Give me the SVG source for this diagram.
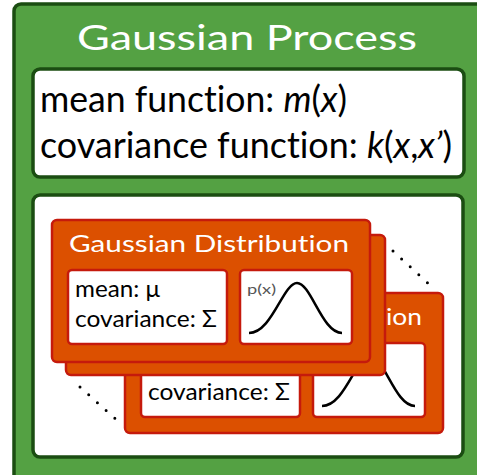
<svg xmlns="http://www.w3.org/2000/svg" width="477" height="475" viewBox="0 0 477 475">
<style>
.gp{fill:#54a143;stroke:#1b4d12;stroke-width:3.5}
.wb{fill:#ffffff;stroke:#1b4d12;stroke-width:3.5}
.card{fill:#dc5000;stroke:#c51a0c;stroke-width:2.5}
.ib{fill:#ffffff;stroke:#c51a0c;stroke-width:2.5}
.t{font-family:Lato,"Open Sans","DejaVu Sans",sans-serif;font-variant-ligatures:none;font-feature-settings:"liga" 0,"clig" 0}
.title{font-size:35px;fill:#ffffff}
.big{font-size:36px;fill:#000000}
.ctitle{font-size:24px;fill:#ffffff}
.small{font-size:23px;fill:#000000}
.px{font-size:13px;fill:#555555}
.it{font-style:italic}
.curve{fill:none;stroke:#000000;stroke-width:2.5}
.dots{fill:none;stroke:#000000;stroke-width:3;stroke-linecap:round;stroke-dasharray:0 11.7}
</style>
<g id="gaussian-process">
<rect class="gp" x="14" y="4" width="480" height="490" rx="7"/>
<text class="t title" x="77" y="50" textLength="340" lengthAdjust="spacingAndGlyphs">Gaussian Process</text>
</g>
<g id="functions">
<rect class="wb" x="33" y="69" width="431" height="108" rx="7"/>
<text class="t big" x="40" y="112" textLength="307" lengthAdjust="spacingAndGlyphs">mean function: <tspan class="it">m</tspan>(<tspan class="it">x</tspan>)</text>
<text class="t big" x="40" y="158" textLength="412" lengthAdjust="spacingAndGlyphs">covariance function: <tspan class="it">k</tspan>(<tspan class="it">x</tspan>,<tspan class="it">x’</tspan>)</text>
</g>
<g id="distributions-panel">
<rect class="wb" x="33" y="195" width="430" height="262" rx="7"/>
</g>
<g id="card-back">
<rect class="card" x="125" y="293" width="318" height="140" rx="5"/>
<text class="t ctitle" x="386" y="325" textLength="36" lengthAdjust="spacingAndGlyphs">ion</text>
<rect class="ib" x="141" y="343" width="159" height="74" rx="4"/>
<text class="t small" x="148" y="400" textLength="142" lengthAdjust="spacingAndGlyphs">covariance: Σ</text>
<rect class="ib" x="313" y="343" width="112" height="74" rx="4"/>
<path class="curve" d="M322,406 C345,406 356,356 370,356 C384,356 395,406 415,406"/>
</g>
<g id="connectors">
<path class="dots" d="M393,251 L431,286"/>
<path class="dots" d="M80,387 L119,422"/>
</g>
<g id="card-middle">
<rect class="card" x="66" y="235" width="319" height="140" rx="5"/>
</g>
<g id="card-front">
<rect class="card" x="52" y="220" width="318" height="142" rx="5"/>
<text class="t ctitle" x="69" y="252" textLength="280" lengthAdjust="spacingAndGlyphs">Gaussian Distribution</text>
<rect class="ib" x="68" y="270" width="159" height="74" rx="4"/>
<text class="t small" x="75" y="297" textLength="85" lengthAdjust="spacingAndGlyphs">mean: μ</text>
<text class="t small" x="75" y="327" textLength="142" lengthAdjust="spacingAndGlyphs">covariance: Σ</text>
<rect class="ib" x="240" y="270" width="112" height="74" rx="4"/>
<text class="t px" x="247" y="294" textLength="29" lengthAdjust="spacingAndGlyphs">p(x)</text>
<path class="curve" d="M249,333 C272,333 283,283 297,283 C311,283 322,333 342,333"/>
</g>
</svg>
